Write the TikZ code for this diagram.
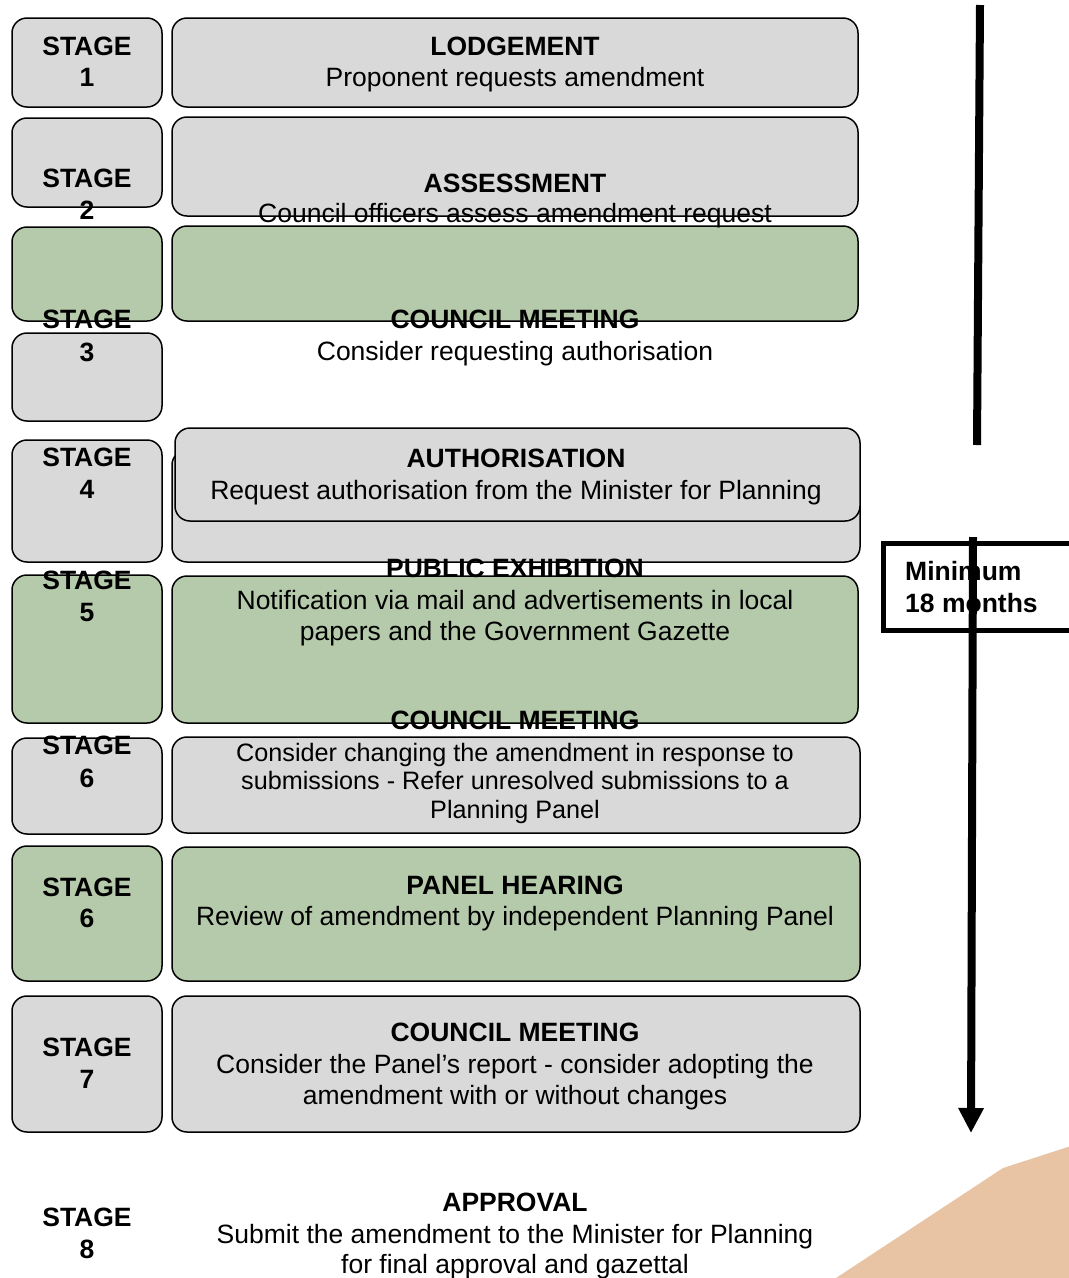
\documentclass[tikz,border=0pt]{standalone}
\usepackage{fontspec}
\setmainfont{Liberation Sans}
\usetikzlibrary{arrows.meta}
\definecolor{boxgray}{RGB}{217,217,217}
\definecolor{boxgreen}{RGB}{181,202,170}
\definecolor{tan}{RGB}{232,196,164}
\tikzset{
  gbox/.style={draw=black, line width=1.5pt, fill=boxgray, rounded corners=15pt, inner sep=0pt, outer sep=0pt},
  grbox/.style={gbox, fill=boxgreen},
  hd/.style={anchor=base, inner sep=0pt, font=\fontsize{26.5}{31}\selectfont\bfseries},
  tx/.style={anchor=base, inner sep=0pt, font=\fontsize{26.5}{31}\selectfont},
  txs/.style={anchor=base, inner sep=0pt, font=\fontsize{25.2}{29}\selectfont},
}
\newcommand\bx[6]{\node[#2, minimum width={#5-#3}, minimum height={#6-#4}] (#1) at ({(#3+#5)/2},{(#4+#6)/2}) {};}
\begin{document}
\begin{tikzpicture}[x=1pt,y=-1pt]
\useasboundingbox (0,0) rectangle (1069,1278);
\clip (0,0) rectangle (1069,1278);
% tan shape
\fill[tan] (833,1280) -- (1003,1168) -- (1071,1146) -- (1071,1280) -- cycle;
% boxes
\bx{s1l}{gbox}{12}{18}{162}{107}
\bx{s1r}{gbox}{172}{18}{858}{107}
\bx{s2l}{gbox}{12}{118}{162}{207}
\bx{s2r}{gbox}{172}{117}{858}{216}
\bx{s3lg}{grbox}{12}{227}{162}{321}
\bx{s3rg}{grbox}{172}{226}{858}{321}
\bx{s3l}{gbox}{12}{333}{162}{421}
\bx{s4l}{gbox}{12}{440}{162}{562}
\bx{s4rb}{gbox}{172}{450}{860}{562}
\bx{s4r}{gbox}{175}{428}{860}{521}
\bx{s5l}{grbox}{12}{575}{162}{723}
\bx{s5r}{grbox}{172}{576}{858}{723}
\bx{s6l}{gbox}{12}{738}{162}{834}
\bx{s6r}{gbox}{172}{737}{860}{833}
\bx{s6bl}{grbox}{12}{846}{162}{981}
\bx{s6br}{grbox}{172}{847}{860}{981}
\bx{s7l}{gbox}{12}{996}{162}{1132}
\bx{s7r}{gbox}{172}{996}{860}{1132}
% stage labels
\node[hd] (l1a) at (87,55) {STAGE};
\node[hd] (l1b) at (87,86) {1};
\node[hd] (l2a) at (87,187) {STAGE};
\node[hd] (l2b) at (87,219) {2};
\node[hd] (l3a) at (87,328) {STAGE};
\node[hd] (l3b) at (87,361) {3};
\node[hd] (l4a) at (87,466) {STAGE};
\node[hd] (l4b) at (87,498) {4};
\node[hd] (l5a) at (87,589) {STAGE};
\node[hd] (l5b) at (87,621) {5};
\node[hd] (l6a) at (87,754) {STAGE};
\node[hd] (l6b) at (87,787) {6};
\node[hd] (l6c) at (87,896) {STAGE};
\node[hd] (l6d) at (87,927) {6};
\node[hd] (l7a) at (87,1056) {STAGE};
\node[hd] (l7b) at (87,1088) {7};
\node[hd] (l8a) at (87,1226) {STAGE};
\node[hd] (l8b) at (87,1258) {8};
% right texts
\node[hd] (t1a) at (515,55) {LODGEMENT};
\node[tx] (t1b) at (515,86) {Proponent requests amendment};
\node[hd] (t2a) at (515,192) {ASSESSMENT};
\node[tx] (t2b) at (515,222) {Council officers assess amendment request};
\node[hd] (t3a) at (515,328) {COUNCIL MEETING};
\node[tx] (t3b) at (515,360) {Consider requesting authorisation};
\node[hd] (t4a) at (516,467) {AUTHORISATION};
\node[tx] (t4b) at (516,499) {Request authorisation from the Minister for Planning};
\node[hd] (t5a) at (515,577) {PUBLIC EXHIBITION};
\node[tx] (t5b) at (515,609) {Notification via mail and advertisements in local};
\node[tx] (t5c) at (515,640) {papers and the Government Gazette};
\node[hd] (t6a) at (515,729) {COUNCIL MEETING};
\node[txs] (t6b) at (515,761) {Consider changing the amendment in response to};
\node[txs] (t6c) at (515,789) {submissions - Refer unresolved submissions to a};
\node[txs] (t6d) at (515,818) {Planning Panel};
\node[hd] (t7a) at (515,894) {PANEL HEARING};
\node[tx] (t7b) at (515,925) {Review of amendment by independent Planning Panel};
\node[hd] (t8a) at (515,1041) {COUNCIL MEETING};
\node[tx] (t8b) at (515,1073) {Consider the Panel’s report - consider adopting the};
\node[tx] (t8c) at (515,1104) {amendment with or without changes};
\node[hd] (t9a) at (515,1211) {APPROVAL};
\node[tx] (t9b) at (515,1243) {Submit the amendment to the Minister for Planning};
\node[tx] (t9c) at (515,1273) {for final approval and gazettal};
% minimum box
\draw[line width=5pt, fill=white] (883,543) rectangle (1080,630);
\node[hd, anchor=base west] (m1) at (905,580) {Minimum};
\node[hd, anchor=base west] (m2) at (905,612) {18 months};
% arrow
\coordinate (a1) at (980,5);
\coordinate (a2) at (977,445);
\coordinate (a3) at (973,537);
\coordinate (a4) at (971,1133);
\draw[line width=8pt] (a1) -- (a2);
\draw[line width=8pt, -{Triangle[width=24pt,length=25pt]}] (a3) -- (a4);
\end{tikzpicture}
\end{document}
